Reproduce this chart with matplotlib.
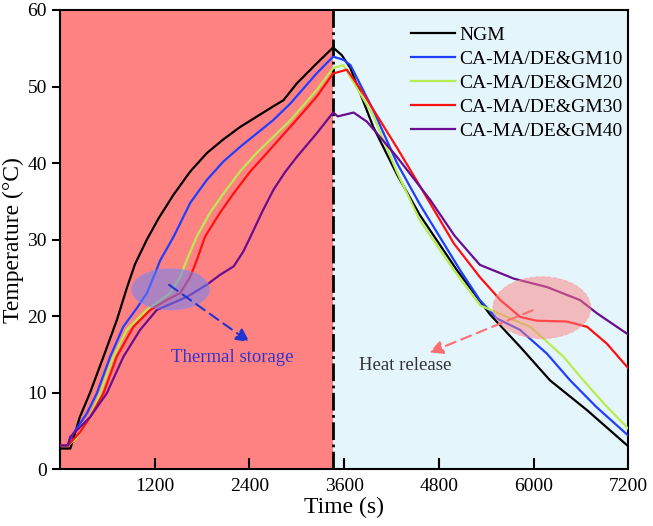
import matplotlib
matplotlib.use('Agg')
import matplotlib.pyplot as plt
from matplotlib.patches import Ellipse

plt.rcParams['font.family'] = ['Liberation Serif', 'DejaVu Serif']

# heating / cooling curves (time in s, temperature in degC)
t_ngm = [0, 130, 250, 380, 550, 720, 850, 950, 1100, 1250, 1440, 1650, 1860, 2070, 2280, 2700, 2830,
         3000, 3250, 3380, 3460, 3570, 3680, 3970, 4270, 4560, 5030, 5450, 5830, 6210, 6680, 7200]
T_ngm = [2.7, 2.7, 6.8, 10.0, 14.7, 19.5, 23.8, 26.8, 30.0, 32.8, 35.9, 38.9, 41.3, 43.1, 44.7, 47.4, 48.2,
         50.4, 53.0, 54.3, 55.1, 54.1, 52.4, 44.7, 38.5, 33.2, 26.0, 20.2, 16.0, 11.6, 7.7, 3.0]

t_gm10 = [0, 90, 170, 340, 465, 635, 800, 970, 1100, 1185, 1270, 1440, 1650, 1860, 2070, 2280, 2700,
          2920, 3250, 3460, 3590, 3680, 3970, 4270, 4560, 5070, 5320, 5535, 5830, 6170, 6465, 6800, 7200]
T_gm10 = [3.1, 3.1, 4.7, 7.3, 9.9, 14.7, 18.6, 21.0, 23.0, 25.1, 27.3, 30.4, 34.8, 37.8, 40.2, 42.1, 45.6,
          47.8, 51.7, 53.9, 53.5, 52.8, 46.9, 40.0, 34.6, 26.0, 22.1, 19.7, 18.2, 15.1, 11.6, 8.1, 4.4]

t_gm20 = [0, 100, 200, 380, 507, 676, 845, 1098, 1394, 1521, 1605, 1732, 1900, 2070, 2280, 2490, 2920,
          3250, 3460, 3590, 3970, 4270, 4560, 4990, 5324, 5750, 5960, 6380, 6590, 6890, 7200]
T_gm20 = [3.1, 3.1, 4.0, 6.9, 9.9, 14.7, 18.2, 20.8, 23.0, 25.1, 27.3, 30.4, 33.5, 36.0, 38.9, 41.3, 45.6,
          49.5, 52.4, 52.8, 46.2, 38.8, 32.5, 26.0, 21.4, 19.5, 18.6, 14.7, 12.1, 8.6, 5.3]

t_gm30 = [0, 100, 250, 380, 549, 718, 929, 1141, 1350, 1521, 1648, 1732, 1838, 2020, 2197, 2410, 2620,
          2958, 3254, 3460, 3634, 3800, 4270, 4560, 4990, 5320, 5580, 5830, 6040, 6420, 6680, 6930, 7200]
T_gm30 = [3.1, 3.1, 4.8, 6.8, 9.9, 14.7, 18.6, 20.8, 22.1, 23.0, 25.1, 27.3, 30.4, 33.4, 36.0, 38.9, 41.3,
          45.2, 48.7, 51.7, 52.2, 49.8, 42.0, 37.0, 29.5, 25.1, 22.1, 19.9, 19.4, 19.3, 18.6, 16.4, 13.2]

t_gm40 = [0, 100, 127, 380, 591, 803, 1014, 1225, 1605, 1859, 2028, 2200, 2320, 2410, 2560, 2704, 2850,
          3000, 3254, 3460, 3520, 3720, 3890, 4270, 4690, 5000, 5320, 5750, 6170, 6590, 6800, 7200]
T_gm40 = [3.1, 3.1, 4.2, 6.8, 9.9, 14.7, 18.2, 20.8, 22.5, 24.1, 25.4, 26.5, 28.4, 30.3, 33.6, 36.5, 38.8,
          40.8, 43.9, 46.6, 46.1, 46.6, 45.4, 40.8, 35.2, 30.5, 26.7, 24.9, 23.8, 22.1, 20.4, 17.6]

labels = ['NGM', 'CA-MA/DE&GM10', 'CA-MA/DE&GM20', 'CA-MA/DE&GM30', 'CA-MA/DE&GM40']
colors = ['black', '#1f3fff', '#b8ec50', '#ff1010', '#6a0d91']
t_switch = 3460

fig = plt.figure(figsize=(6.53, 5.26), dpi=100)
ax = fig.add_axes([0.092, 0.108, 0.870, 0.873])

# heating / cooling background areas
ax.axvspan(0, t_switch, color='#ff8282', zorder=0, lw=0)
ax.axvspan(t_switch, 7200, color='#e4f5fc', zorder=0, lw=0)
ax.axvline(t_switch, color='black', ls='-.', lw=2, zorder=3)

series = [(t_ngm, T_ngm), (t_gm10, T_gm10), (t_gm20, T_gm20), (t_gm30, T_gm30), (t_gm40, T_gm40)]
for (t, T), c, lab in zip(series, colors, labels):
    ax.plot(t, T, color=c, lw=1.6, label=lab, zorder=4)

# highlighted regions
ax.add_patch(Ellipse((1400, 23.5), 990, 5.4, facecolor='#6a82f5', alpha=0.55,
                     edgecolor='#8c8cff', ls='--', lw=0.8, zorder=5))
ax.add_patch(Ellipse((6106, 21.1), 1240, 8.1, facecolor='#ff8282', alpha=0.5,
                     edgecolor='#ff9a9a', ls='--', lw=0.8, zorder=5))

ax.annotate('', xy=(2430, 16.4), xytext=(1352, 24.3),
            arrowprops=dict(arrowstyle='-|>', ls=(0, (5, 3)), color='#2034d0', lw=1.5,
                            mutation_scale=20), zorder=6)
ax.annotate('', xy=(4648, 15.1), xytext=(6021, 20.9),
            arrowprops=dict(arrowstyle='-|>', ls=(0, (5, 3)), color='#ff6e6e', lw=1.5,
                            mutation_scale=20), zorder=6)
ax.text(2183, 14.6, 'Thermal storage', color='#3535c8', fontsize=13.5, ha='center', va='center')
ax.text(4379, 13.5, 'Heat release', color='#333333', fontsize=13.5, ha='center', va='center')

ax.set_xlim(0, 7200)
ax.set_ylim(0, 60)
ax.set_xticks([1200, 2400, 3600, 4800, 6000, 7200])
ax.set_yticks([0, 10, 20, 30, 40, 50, 60])
ax.tick_params(axis='x', direction='in', length=8, width=1.5, labelsize=14, pad=6)
ax.tick_params(axis='y', direction='out', length=6, width=1.5, labelsize=14)
for s in ax.spines.values():
    s.set_linewidth(1.5)
ax.set_xlabel('Time (s)', fontsize=17, labelpad=2)
ax.set_ylabel('Temperature (°C)', fontsize=17, labelpad=2)

ax.legend(loc='upper right', bbox_to_anchor=(1.014, 0.9935), frameon=False, fontsize=14,
          handlelength=2.3, handletextpad=0.2, labelspacing=0.32, borderaxespad=0.3)

fig.savefig('out.png', dpi=100)
